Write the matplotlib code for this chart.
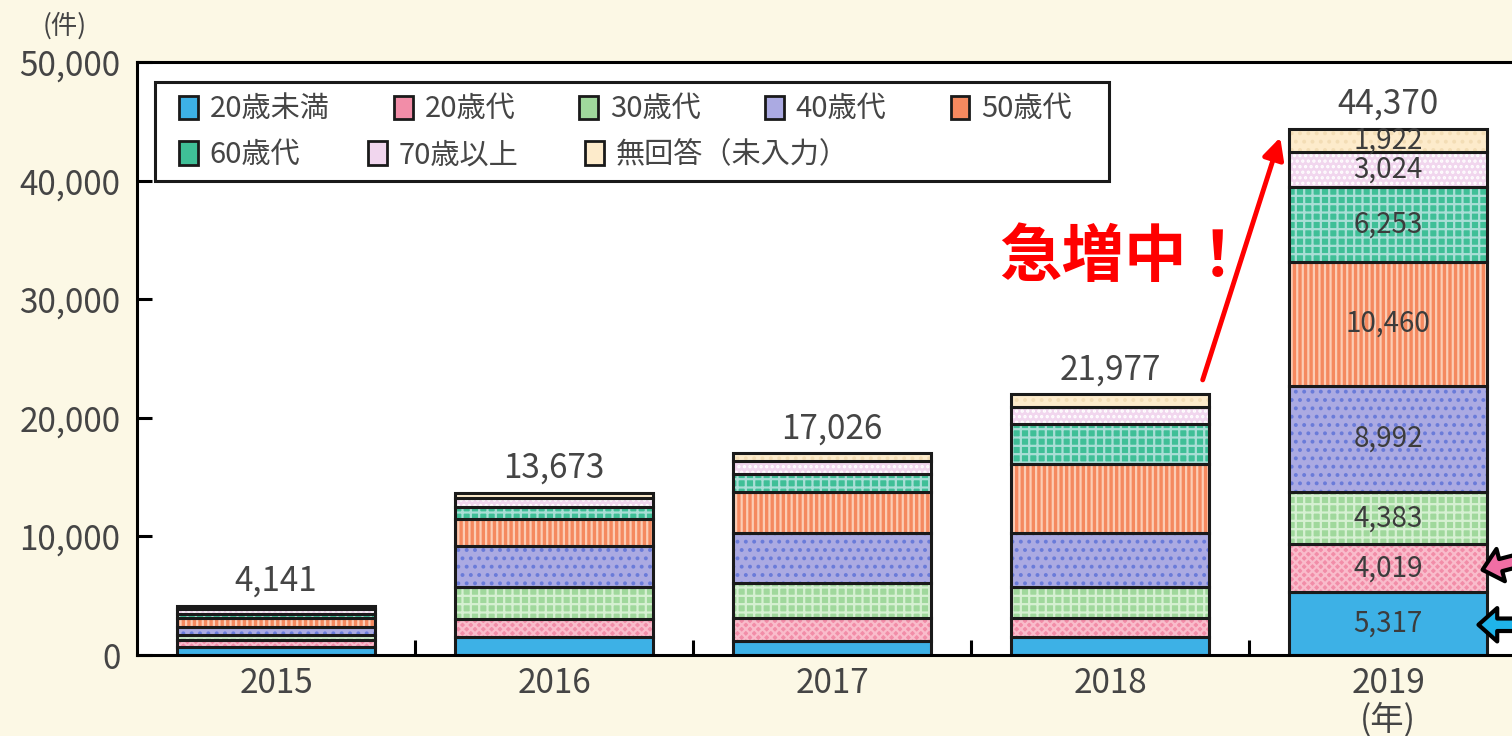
import matplotlib
matplotlib.use("Agg")
import matplotlib.pyplot as plt
from matplotlib.patches import Patch, Rectangle
import numpy as np

plt.rcParams['font.family'] = ['Noto Sans CJK JP', 'DejaVu Sans']
plt.rcParams['hatch.linewidth'] = 1.6

# data
years = ['2015', '2016', '2017', '2018', '2019']
groups = ['20歳未満', '20歳代', '30歳代', '40歳代', '50歳代', '60歳代', '70歳以上', '無回答（未入力）']
u20 = [700, 1545, 1207, 1545, 5317]
s20 = [600, 1493, 1890, 1552, 4019]
s30 = [400, 2726, 3005, 2667, 4383]
s40 = [700, 3434, 4169, 4558, 8992]
s50 = [700, 2254, 3511, 5773, 10460]
s60 = [400, 1063, 1494, 3375, 6253]
s70 = [400, 735, 1122, 1485, 3024]
noans = [241, 423, 628, 1022, 1922]
totals = [4141, 13673, 17026, 21977, 44370]

series = [u20, s20, s30, s40, s50, s60, s70, noans]
faces = ['#3DB1E6', '#F28DA8', '#A0D89C', '#ABAAE2', '#F5895F', '#3FBF97', '#F1D6EE', '#FDEBCB']
hatch_cols = ['#3DB1E6', '#F9BCCB', '#D6F0D2', '#6A7BD9', '#FBCDB5', '#A9DED6', '#FFFFFF', '#F3DDB5']
hatches = [None, 'xxxx', '++', '..', '|||', '++', '...', '..']

fig = plt.figure(figsize=(15.12, 7.36), dpi=100)
fig.patch.set_facecolor('#FCF8E5')
ax = fig.add_axes([0.0906, 0.110, 0.9194, 0.8057])
ax.set_facecolor('white')

x = np.arange(len(years))
w = 0.71
bottom = np.zeros(len(years))
for vals, fc, hc, h in zip(series, faces, hatch_cols, hatches):
    ax.bar(x, vals, w, bottom=bottom, color=fc, edgecolor=hc, hatch=h, linewidth=0)
    ax.bar(x, vals, w, bottom=bottom, fill=False, edgecolor='#1a1a1a', linewidth=2.2)
    bottom += np.array(vals)

# totals above bars
for xi, t in zip(x, totals):
    ax.annotate(f'{t:,}', (xi, t), xytext=(0, 5), textcoords='offset points',
                ha='center', va='bottom', fontsize=24, color='#454545')

# labels inside the 2019 bar
cum = 0
for vals in series:
    v = vals[-1]
    ax.text(x[-1], cum + v / 2, f'{v:,}', ha='center', va='center', fontsize=20, color='#3c3c3c')
    cum += v

ax.set_xlim(-0.5, 4.5)
ax.set_ylim(0, 50000)
ax.set_yticks(range(0, 50001, 10000))
ax.set_yticklabels([f'{v:,}' for v in range(0, 50001, 10000)])
ax.set_xticks(x)
ax.set_xticklabels(years[:-1] + [years[-1] + '\n(年)'], linespacing=1.05)
ax.set_xticks(x[:-1] + 0.5, minor=True)
ax.tick_params(axis='x', which='major', length=0, pad=8, labelsize=24, labelcolor='#454545')
ax.tick_params(axis='x', which='minor', direction='in', length=11, width=2.2)
ax.tick_params(axis='y', direction='in', length=11, width=2.2, pad=12, labelsize=24, labelcolor='#454545')
for s in ['left', 'bottom', 'top']:
    ax.spines[s].set_linewidth(2.2)
ax.spines['right'].set_visible(False)

fig.text(0.043, 0.965, '(件)', fontsize=19, color='#454545', ha='center', va='center')

# legend: frame + two rows
ax.add_patch(Rectangle((0.013, 0.799), 0.686, 0.167, transform=ax.transAxes,
                       facecolor='white', edgecolor='#1a1a1a', linewidth=2.2, zorder=4))
handles = [Patch(facecolor=fc, edgecolor='#1a1a1a', linewidth=2) for fc in faces]
leg_kw = dict(frameon=False, fontsize=21, handlelength=0.65, handleheight=0.85,
              handletextpad=0.4, borderaxespad=0, labelcolor='#454545')
leg1 = ax.legend(handles[:5], groups[:5], ncol=5, loc='upper left',
                 bbox_to_anchor=(0.022, 0.965), columnspacing=2.2, **leg_kw)
leg1.set_zorder(5)
ax.add_artist(leg1)
leg2 = ax.legend(handles[5:], groups[5:], ncol=3, loc='upper left',
                 bbox_to_anchor=(0.022, 0.888), columnspacing=2.3, **leg_kw)
leg2.set_zorder(5)

# red arrow and note
ax.annotate('', xy=(x[4] - w / 2 - 0.03, totals[4] - 500), xytext=(x[3] + 0.33, totals[3] + 1000),
            arrowprops=dict(arrowstyle='-|>', color='#FF0000', lw=3.5, mutation_scale=32))
ax.text(2.60, 33500, '急増中！', fontsize=45, fontweight='bold', color='#FF0000',
        ha='left', va='center')

# arrows at right edge
arrow_style = 'simple,head_length=0.45,head_width=0.8,tail_width=0.3'
ax.annotate('', xy=(x[4] + w / 2 - 0.025, u20[4] + s20[4] * 0.45), xytext=(4.80, 10000),
            arrowprops=dict(arrowstyle=arrow_style, fc='#F06EA4', ec='black', lw=3,
                            mutation_scale=30),
            annotation_clip=False)
ax.annotate('', xy=(x[4] + w / 2 - 0.04, u20[4] * 0.48), xytext=(4.80, u20[4] * 0.48),
            arrowprops=dict(arrowstyle=arrow_style, fc='#1FB4EA', ec='black', lw=3,
                            mutation_scale=30),
            annotation_clip=False)

fig.savefig('out.png', dpi=100, facecolor=fig.get_facecolor())
